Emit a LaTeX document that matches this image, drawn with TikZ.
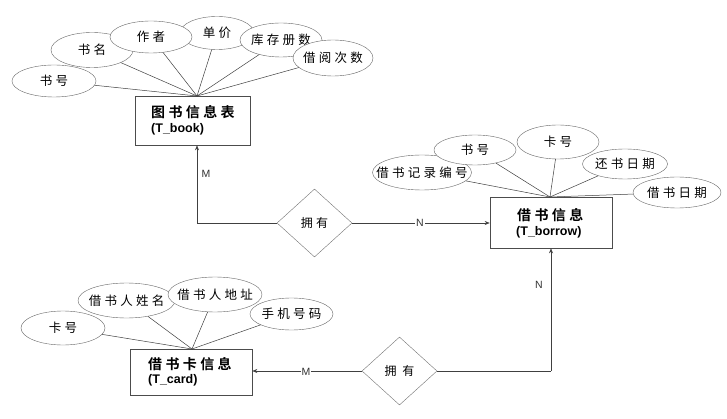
\documentclass[tikz,border=0pt]{standalone}
\usepackage{fontspec}
\setmainfont{Liberation Sans}
\newfontfamily\cjk[LetterSpace=26]{Noto Sans CJK SC}
\newfontfamily\cjkb[LetterSpace=24]{Noto Sans CJK SC Bold}
\usetikzlibrary{arrows.meta,shapes.geometric}
\newcommand\zw[1]{\makebox[0pt]{#1}}
\begin{document}
\begin{tikzpicture}[x=1pt,y=-1pt,
  attr/.style={draw=black!60,ellipse,inner sep=0pt,fill=white,font=\cjk\fontsize{12.5}{13}\selectfont,text=black},
  ent/.style={draw=black!70,rectangle,inner sep=0pt,fill=white,align=left,line width=0.6pt},
  rel/.style={draw=black!55,diamond,inner sep=0pt,font=\cjk\fontsize{12}{13}\selectfont,text=black},
  conn/.style={draw=black!75,line width=0.5pt},
  arr/.style={conn,-{Stealth[length=5pt,width=4pt]}},
  card/.style={font=\fontsize{10.5}{11}\selectfont,text=black!80,fill=white,inner sep=1pt},
  ttl/.style={font=\cjkb\fontsize{14}{15}\selectfont,inner sep=0pt},
  sub/.style={font=\bfseries\fontsize{12.5}{13}\selectfont,inner sep=0pt}
]
\useasboundingbox (0,0) rectangle (727,419);
\fill[white] (0,0) rectangle (727,419);

% ---------- book entity ----------
\node[ent,minimum width=115pt,minimum height=49pt] (book) at (192.5,120.5) {};
\node[ttl,anchor=west] (bookt) at (151,112.5) {图书信息表};
\node[sub,anchor=west] (books) at (151,129) {(T\_book)};
\coordinate (bk) at (197,96);

\node[attr,minimum width=84pt,minimum height=32pt] (b1) at (54,81) {\zw{书号}};
\node[attr,minimum width=82pt,minimum height=35pt] (b2) at (92,50) {\zw{书名}};
\node[attr,minimum width=74pt,minimum height=33pt] (b4) at (217,33) {\zw{单价}};
\node[attr,minimum width=82pt,minimum height=32pt] (b3) at (151,37) {\zw{作者}};
\node[attr,minimum width=82pt,minimum height=34pt] (b5) at (281,40) {\zw{库存册数}};
\node[attr,minimum width=80pt,minimum height=36pt] (b6) at (333,58) {\zw{借阅次数}};
\foreach \a in {b1,b2,b3,b4,b5,b6} \draw[conn] (bk) -- (\a);

% ---------- borrow entity ----------
\node[ent,minimum width=122pt,minimum height=51pt] (bor) at (551,222.5) {};
\node[ttl,anchor=west] (bort) at (517,215) {借书信息};
\node[sub,anchor=west] (bors) at (516,232) {(T\_borrow)};
\coordinate (bw) at (550,197);

\node[attr,minimum width=99pt,minimum height=35pt] (r1) at (422,172.5) {\zw{借书记录编号}};
\node[attr,minimum width=82pt,minimum height=30pt] (r2) at (475,150) {\zw{书号}};
\node[attr,minimum width=82pt,minimum height=34pt] (r3) at (558,142) {\zw{卡号}};
\node[attr,minimum width=85pt,minimum height=30pt] (r4) at (625,164) {\zw{还书日期}};
\node[attr,minimum width=88pt,minimum height=31pt] (r5) at (677,192.5) {\zw{借书日期}};
\foreach \a in {r1,r2,r3,r4,r5} \draw[conn] (bw) -- (\a);

% ---------- card entity ----------
\node[ent,minimum width=122pt,minimum height=46pt] (card) at (191,372) {};
\node[ttl,anchor=west] (cardt) at (148,364) {借书卡信息};
\node[sub,anchor=west] (cards) at (148,380) {(T\_card)};
\coordinate (cd) at (192,349);

\node[attr,minimum width=84pt,minimum height=34pt] (c1) at (63,328) {\zw{卡号}};
\node[attr,minimum width=97pt,minimum height=35pt] (c2) at (126.5,300.5) {\zw{借书人姓名}};
\node[attr,minimum width=94pt,minimum height=35pt] (c3) at (215,294.5) {\zw{借书人地址}};
\node[attr,minimum width=83pt,minimum height=32pt] (c4) at (291.5,314) {\zw{手机号码}};
\foreach \a in {c1,c2,c3,c4} \draw[conn] (cd) -- (\a);

% ---------- relationships ----------
\node[rel,minimum width=75pt,minimum height=68pt] (own1) at (314.5,223) {拥有};
\node[rel,minimum width=75pt,minimum height=68pt] (own2) at (399.5,371) {拥 有};

\coordinate (k1) at (197,223);
\draw[conn] (own1.west) -- (k1);
\draw[arr] (k1) -- (bk |- book.south);
\node[card] (m1) at (206,174) {M};

\draw[arr] (own1.east) -- (bor.west |- own1.east);
\node[card] (n1) at (420,223) {N};

\coordinate (k2) at (551,371);
\draw[conn] (own2.east) -- (k2);
\draw[arr] (k2) -- (bor.south);
\node[card] (n2) at (539,285) {N};

\draw[arr] (own2.west) -- (card.east |- own2.west);
\node[card] (m2) at (306,372) {M};
\end{tikzpicture}
\end{document}
